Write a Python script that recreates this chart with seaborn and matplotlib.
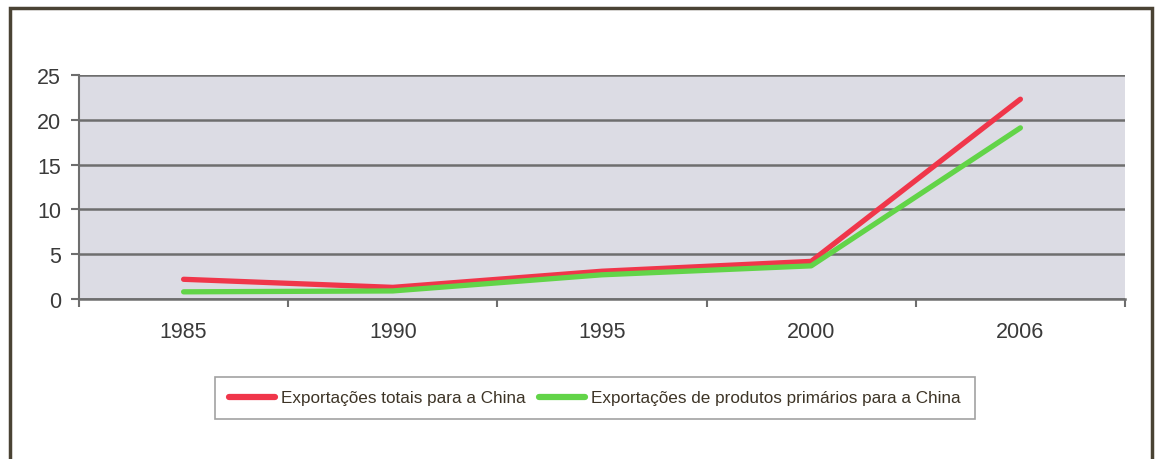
import pandas as pd
import matplotlib.pyplot as plt
import seaborn as sns
from matplotlib.lines import Line2D

# Exportações para a China
anos = ['1985', '1990', '1995', '2000', '2006']
totais = [2.2, 1.3, 3.1, 4.2, 22.3]
primarios = [0.8, 0.9, 2.7, 3.7, 19.1]
rotulos = ['Exportações totais para a China',
           'Exportações de produtos primários para a China']

df = pd.DataFrame({'Ano': anos * 2,
                   'Valor': totais + primarios,
                   'Série': [rotulos[0]] * 5 + [rotulos[1]] * 5})

sns.set_style('white')
plt.rcParams['font.family'] = ['Liberation Sans', 'DejaVu Sans']

fig = plt.figure(figsize=(11.55, 4.6), dpi=100)
ax = fig.add_axes([79 / 1155, 1 - 300 / 460, 1046 / 1155, 224 / 460])

cores = {rotulos[0]: '#f0364a', rotulos[1]: '#62d448'}
sns.lineplot(data=df, x='Ano', y='Valor', hue='Série', palette=cores,
             linewidth=3.8, ax=ax, legend=False, sort=False)
for ln in ax.lines:
    ln.set_solid_capstyle('round')

ax.set_facecolor('#dcdce4')
ax.set_xlim(-0.5, 4.5)
ax.set_ylim(0, 25)
ax.set_yticks([0, 5, 10, 15, 20, 25])
ax.set_xticks(range(5))
ax.set_xticklabels(anos)
ax.set_xticks([i - 0.5 for i in range(6)], minor=True)
ax.set_xlabel('')
ax.set_ylabel('')
ax.grid(axis='y', color='#6e6e6e', linewidth=1.8)
ax.set_axisbelow(True)
for s in ['top', 'right']:
    ax.spines[s].set_visible(False)
ax.spines['left'].set_color('#6e6e6e')
ax.spines['bottom'].set_color('#6e6e6e')
ax.spines['left'].set_linewidth(1.5)
ax.spines['bottom'].set_linewidth(1.8)
ax.tick_params(axis='y', which='major', length=6, width=1.5, color='#6e6e6e',
               labelsize=15.5, labelcolor='#3a3a3a', left=True, pad=7)
ax.tick_params(axis='x', which='major', length=0, labelsize=15.5,
               labelcolor='#3a3a3a', pad=16)
ax.tick_params(axis='x', which='minor', length=6, width=1.5, color='#6e6e6e',
               bottom=True)

# legenda
handles = [Line2D([], [], color=cores[r], linewidth=4.5, solid_capstyle='round')
           for r in rotulos]
leg = fig.legend(handles, rotulos, loc='center',
                 bbox_to_anchor=(595 / 1155, 1 - 399 / 460), ncol=2,
                 frameon=True, fancybox=False, handlelength=2.7,
                 handletextpad=0.35, columnspacing=0.8, borderpad=0.8,
                 prop={'family': ['Liberation Sans', 'DejaVu Sans'],
                       'size': 12.3})
leg.get_frame().set_edgecolor('#8a8a8a')
leg.get_frame().set_linewidth(1.2)
for t in leg.get_texts():
    t.set_color('#3d3426')

# moldura externa
fig.add_artist(Line2D([10 / 1155, 10 / 1155, 1152 / 1155, 1152 / 1155],
                      [-0.05, 1 - 8.5 / 460, 1 - 8.5 / 460, -0.05],
                      transform=fig.transFigure, color='#4a4334',
                      linewidth=2.5, solid_joinstyle='miter'))

fig.savefig('out.png', dpi=100)
